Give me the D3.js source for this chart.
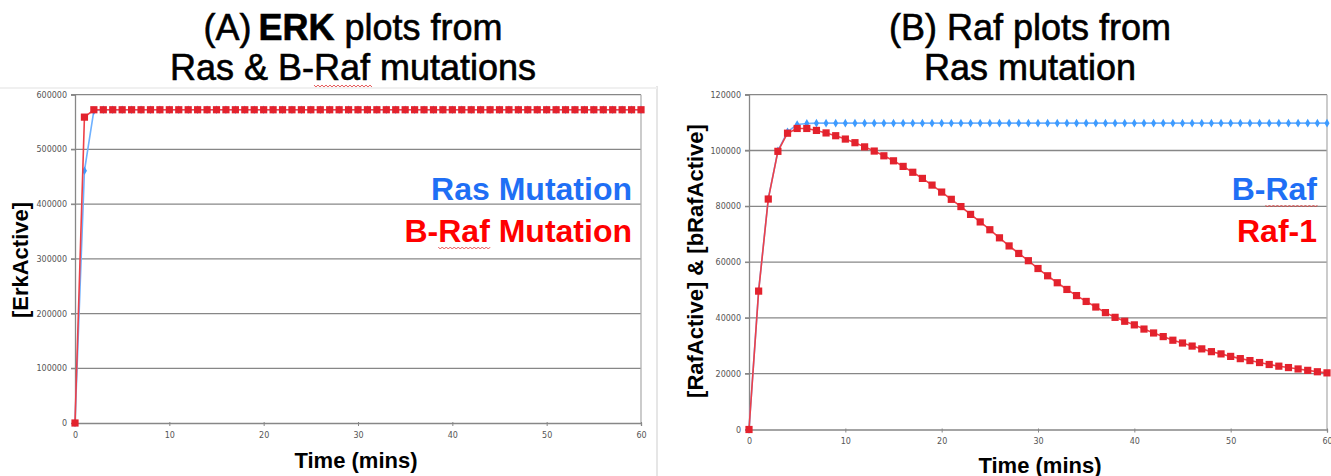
<!DOCTYPE html>
<html>
<head>
<meta charset="utf-8">
<script src="https://cdn.jsdelivr.net/npm/d3@7"></script>
<style>
  body { margin: 0; background: #fff; }
  svg { display: block; font-family: "Liberation Sans", Arial, sans-serif; }
</style>
</head>
<body>
<div id="chart"></div>
<script>
// time points (minutes)
const times = [0,1,2,3,4,5,6,7,8,9,10,11,12,13,14,15,16,17,18,19,20,21,22,23,24,25,26,27,28,29,30,
  31,32,33,34,35,36,37,38,39,40,41,42,43,44,45,46,47,48,49,50,51,52,53,54,55,56,57,58,59,60];
const timeTicks = [0, 10, 20, 30, 40, 50, 60];

// (A) ErkActive
const erkTicks = [0, 100000, 200000, 300000, 400000, 500000, 600000];
const erkRasMutation = [0, 461000, 571000, 572500, 572500, 572500, 572500, 572500, 572500, 572500,
  572500, 572500, 572500, 572500, 572500, 572500, 572500, 572500, 572500, 572500,
  572500, 572500, 572500, 572500, 572500, 572500, 572500, 572500, 572500, 572500,
  572500, 572500, 572500, 572500, 572500, 572500, 572500, 572500, 572500, 572500,
  572500, 572500, 572500, 572500, 572500, 572500, 572500, 572500, 572500, 572500,
  572500, 572500, 572500, 572500, 572500, 572500, 572500, 572500, 572500, 572500, 572500];
const erkBRafMutation = [0, 559000, 572500, 572500, 572500, 572500, 572500, 572500, 572500, 572500,
  572500, 572500, 572500, 572500, 572500, 572500, 572500, 572500, 572500, 572500,
  572500, 572500, 572500, 572500, 572500, 572500, 572500, 572500, 572500, 572500,
  572500, 572500, 572500, 572500, 572500, 572500, 572500, 572500, 572500, 572500,
  572500, 572500, 572500, 572500, 572500, 572500, 572500, 572500, 572500, 572500,
  572500, 572500, 572500, 572500, 572500, 572500, 572500, 572500, 572500, 572500, 572500];

// (B) RafActive / bRafActive
const rafTicks = [0, 20000, 40000, 60000, 80000, 100000, 120000];
const bRaf = [0, 49800, 82700, 99900, 106700, 109300, 109700, 109800, 109800, 109800,
  109800, 109800, 109800, 109800, 109800, 109800, 109800, 109800, 109800, 109800,
  109800, 109800, 109800, 109800, 109800, 109800, 109800, 109800, 109800, 109800,
  109800, 109800, 109800, 109800, 109800, 109800, 109800, 109800, 109800, 109800,
  109800, 109800, 109800, 109800, 109800, 109800, 109800, 109800, 109800, 109800,
  109800, 109800, 109800, 109800, 109800, 109800, 109800, 109800, 109800, 109800, 109800];
const raf1 = [0, 49600, 82600, 99700, 106200, 107900, 107900, 107200, 106300, 105300,
  104100, 102800, 101300, 99800, 98100, 96300, 94300, 92200, 90000, 87600,
  85100, 82500, 79900, 77100, 74400, 71600, 68700, 65800, 63100, 60500,
  57700, 55100, 52600, 50200, 48000, 45900, 43900, 41900, 40200, 38800,
  37500, 36000, 34600, 33300, 32000, 31000, 29900, 28900, 27900, 27100,
  26200, 25400, 24700, 24000, 23300, 22700, 22200, 21700, 21200, 20700, 20300];

const blueLine = "#6fb1ff", blueMark = "#3d9bff";
const redLine = "#ee4048", redMark = "#e3222d";

const svg = d3.select("#chart").append("svg")
  .attr("width", 1331).attr("height", 476);

// faint panel separator
svg.append("line").attr("x1", 657).attr("x2", 657).attr("y1", 86).attr("y2", 476)
  .attr("stroke", "#e6e6e6").attr("stroke-width", 2);
svg.append("line").attr("x1", 0).attr("x2", 657).attr("y1", 88).attr("y2", 88)
  .attr("stroke", "#f0f0f0").attr("stroke-width", 2);

// red spell-check squiggle under chars [i0, i1) of a text element
function squiggle(textSel, i0, i1, dy) {
  const node = textSel.node();
  const a = node.getStartPositionOfChar(i0), b = node.getEndPositionOfChar(i1 - 1);
  const y = a.y + dy;
  let d = `M${a.x},${y}`;
  for (let x = a.x, k = 0; x < b.x; x += 2, k++) d += `L${x + 2},${y + (k % 2 ? 0 : 2)}`;
  svg.append("path").attr("d", d).attr("fill", "none")
    .attr("stroke", "#e03030").attr("stroke-width", 0.8);
}

function drawPanel(cfg) {
  const x = d3.scaleLinear().domain([0, 60]).range([cfg.left, cfg.right]);
  const y = d3.scaleLinear().domain([0, cfg.yMax]).range([cfg.bottom, cfg.top]);
  const g = svg.append("g");

  // gridlines
  g.append("g").selectAll("line").data(cfg.yTicks.slice(1)).join("line")
    .attr("x1", cfg.left - 4).attr("x2", cfg.right)
    .attr("y1", d => y(d)).attr("y2", d => y(d))
    .attr("stroke", "#878787").attr("stroke-width", 1.3);
  // right border
  g.append("line").attr("x1", cfg.right).attr("x2", cfg.right)
    .attr("y1", cfg.top).attr("y2", cfg.bottom)
    .attr("stroke", "#b0b0b0").attr("stroke-width", 1.3);

  const yAxis = g.append("g").attr("transform", `translate(${cfg.left},0)`)
    .call(d3.axisLeft(y).tickValues(cfg.yTicks).tickSize(4).tickPadding(4).tickFormat(d3.format("d")));
  const xAxis = g.append("g").attr("transform", `translate(0,${cfg.bottom})`)
    .call(d3.axisBottom(x).tickValues(timeTicks).tickSize(3).tickPadding(6));
  [xAxis, yAxis].forEach(a => {
    a.select(".domain").attr("stroke", "#878787").attr("stroke-width", 1.3);
    a.selectAll(".tick line").attr("stroke", "#878787");
    a.selectAll("text").attr("fill", "#555").style("font-size", "8px")
      .style("font-family", "'DejaVu Sans', sans-serif");
  });
  xAxis.selectAll(".tick line").attr("y1", -1);

  const line = d3.line().x((d, i) => x(times[i])).y(d => y(d));

  // blue series (underneath)
  g.append("path").datum(cfg.blue).attr("d", line)
    .attr("fill", "none").attr("stroke", blueLine).attr("stroke-width", 1.6);
  g.append("g").selectAll("path").data(cfg.blue).join("path")
    .attr("transform", (d, i) => `translate(${x(times[i])},${y(d)})`)
    .attr("d", d3.symbol(d3.symbolDiamond, 22)).attr("fill", blueMark);

  // red series (on top)
  g.append("path").datum(cfg.red).attr("d", line)
    .attr("fill", "none").attr("stroke", redLine).attr("stroke-width", 1.6);
  g.append("g").selectAll("rect").data(cfg.red).join("rect")
    .attr("x", (d, i) => x(times[i]) - 3.6).attr("y", d => y(d) - 3.6)
    .attr("width", 7.2).attr("height", 7.2).attr("fill", redMark);

  // axis titles
  svg.append("text")
    .attr("transform", `translate(${cfg.yLabelX},${cfg.yLabelY}) rotate(-90)`)
    .attr("text-anchor", "middle").style("font-size", "22px").style("font-weight", "bold")
    .text(cfg.yLabel);
  svg.append("text").attr("x", cfg.xLabelX).attr("y", cfg.xLabelY)
    .attr("text-anchor", "middle").style("font-size", "22px").style("font-weight", "bold")
    .text("Time (mins)");

  // titles
  cfg.title.forEach((parts, li) => {
    const t = svg.append("text").attr("x", cfg.titleX).attr("y", 40 + li * 40)
      .attr("text-anchor", "middle").style("font-size", "36px")
      .attr("stroke", "#000").attr("stroke-width", 0.6);
    parts.forEach(p => t.append("tspan").attr("dx", p.dx || 0)
      .style("font-weight", p.bold ? "bold" : "normal").text(p.text));
    if (cfg.titleSquiggle && cfg.titleSquiggle[0] === li) squiggle(t, cfg.titleSquiggle[1], cfg.titleSquiggle[2], 5);
  });

  // inline legend labels
  const lb = svg.append("text").attr("x", cfg.legendX).attr("y", 200)
    .attr("text-anchor", "end").style("font-size", "32px").style("font-weight", "bold")
    .attr("fill", "#1f6ff5").text(cfg.blueName);
  const lr = svg.append("text").attr("x", cfg.legendX).attr("y", 242)
    .attr("text-anchor", "end").style("font-size", "32px").style("font-weight", "bold")
    .attr("fill", "#ff0000").text(cfg.redName);
  cfg.legendSquiggles.forEach(s => squiggle(s[0] === "blue" ? lb : lr, s[1], s[2], 5));
}

drawPanel({
  left: 75, right: 641, top: 94.7, bottom: 423, yMax: 600000, yTicks: erkTicks,
  blue: erkRasMutation, red: erkBRafMutation,
  yLabel: "[ErkActive]", yLabelX: 28, yLabelY: 260,
  xLabelX: 356, xLabelY: 468,
  titleX: 353,
  title: [[{text: "(A)"}, {text: "ERK", bold: true, dx: 7}, {text: " plots from"}],
          [{text: "Ras & B-Raf mutations"}]],
  titleSquiggle: [1, 8, 11],
  legendX: 632, blueName: "Ras Mutation", redName: "B-Raf Mutation",
  legendSquiggles: [["red", 2, 5]]
});

drawPanel({
  left: 749, right: 1327, top: 94.7, bottom: 429.5, yMax: 120000, yTicks: rafTicks,
  blue: bRaf, red: raf1,
  yLabel: "[RafActive] & [bRafActive]", yLabelX: 703, yLabelY: 261,
  xLabelX: 1040, xLabelY: 473,
  titleX: 1030,
  title: [[{text: "(B) Raf plots from"}], [{text: "Ras mutation"}]],
  legendX: 1317, blueName: "B-Raf", redName: "Raf-1",
  legendSquiggles: [["blue", 2, 5]]
});
</script>
</body>
</html>
